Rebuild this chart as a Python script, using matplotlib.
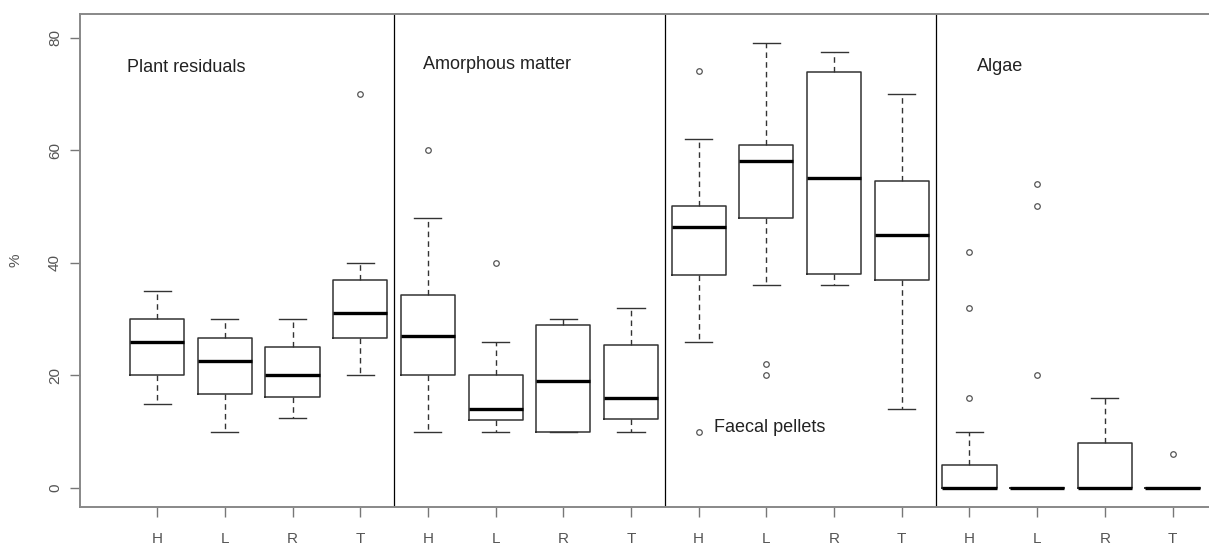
import numpy as np
import matplotlib
matplotlib.use('Agg')
import matplotlib.pyplot as plt

plt.rcParams['font.family'] = ['Liberation Sans', 'DejaVu Sans']

# Box statistics for the four sediment components, sites H, L, R, T each
sites = ['H', 'L', 'R', 'T']
components = ['Plant residuals', 'Amorphous matter', 'Faecal pellets', 'Algae']

whislo = [15, 10, 12.5, 20,   10, 10, 10, 10,      26, 36, 36, 14,       0, 0, 0, 0]
q1     = [20, 16.7, 16.2, 26.7, 20, 12, 10, 12.3,  37.8, 48, 38, 37,     0, 0, 0, 0]
med    = [26, 22.5, 20, 31,   27, 14, 19, 16,      46.4, 58, 55, 45,     0, 0, 0, 0]
q3     = [30, 26.7, 25, 37,   34.2, 20, 29, 25.4,  50.1, 61, 73.8, 54.5, 4, 0, 8, 0]
whishi = [35, 30, 30, 40,     48, 26, 30, 32,      62, 79, 77.5, 70,     10, 0, 16, 0]
fliers = [[], [], [], [70],
          [60], [40], [], [],
          [74, 10], [22, 20], [], [],
          [42, 32, 16], [54, 50, 20], [], [6]]

stats = []
for i in range(len(med)):
    stats.append(dict(whislo=whislo[i], q1=q1[i], med=med[i], q3=q3[i],
                      whishi=whishi[i], fliers=fliers[i]))

positions = np.arange(1, len(stats) + 1)
labels = sites * len(components)

fig = plt.figure(figsize=(12.09, 5.45), dpi=100)
# axes runs past the right edge of the figure, like the cropped R plot
ax = fig.add_axes([80 / 1209, (545 - 506.8) / 545, (1249.7 - 80) / 1209, (506.8 - 13.6) / 545])

edge = '#333333'
ax.bxp(stats, positions=positions, widths=0.8, showfliers=True,
       boxprops=dict(color=edge, linewidth=1.1),
       whiskerprops=dict(color=edge, linewidth=1.0, linestyle=(0, (4, 3))),
       capprops=dict(color=edge, linewidth=1.0),
       medianprops=dict(color='black', linewidth=2.4, solid_capstyle='butt'),
       flierprops=dict(marker='o', markersize=4, markerfacecolor='none',
                       markeredgecolor='#555555', markeredgewidth=0.9, linestyle='none'))

# separators between the four components
for xs in [4.5, 8.5, 12.5]:
    ax.axvline(xs, color='black', linewidth=0.9)

ax.set_xlim(-0.14, 17.14)
ax.set_ylim(-3.34, 84.26)

ax.set_yticks([0, 20, 40, 60, 80])
ax.set_yticklabels(['0', '20', '40', '60', '80'], rotation=90, va='center')
ax.set_xticks(positions)
ax.set_xticklabels(labels)

ax.tick_params(axis='y', direction='out', length=7, width=1, color='#777777',
               labelsize=11, labelcolor='#555555', pad=6)
ax.tick_params(axis='x', direction='out', length=7.5, width=1, color='#777777',
               labelsize=11, labelcolor='#555555', pad=11)

for s in ax.spines.values():
    s.set_color('#888888')
    s.set_linewidth(1.4)

ax.set_ylabel('%', fontsize=11, color='#555555', labelpad=18)

title_pos = [(0.557, 74.6), (4.93, 75.2), (9.22, 10.7), (13.11, 74.9)]
for name, (tx, ty) in zip(components, title_pos):
    ax.text(tx, ty, name, fontsize=13, color='#222222', ha='left', va='center')

fig.savefig('out.png', dpi=100, facecolor='white')
